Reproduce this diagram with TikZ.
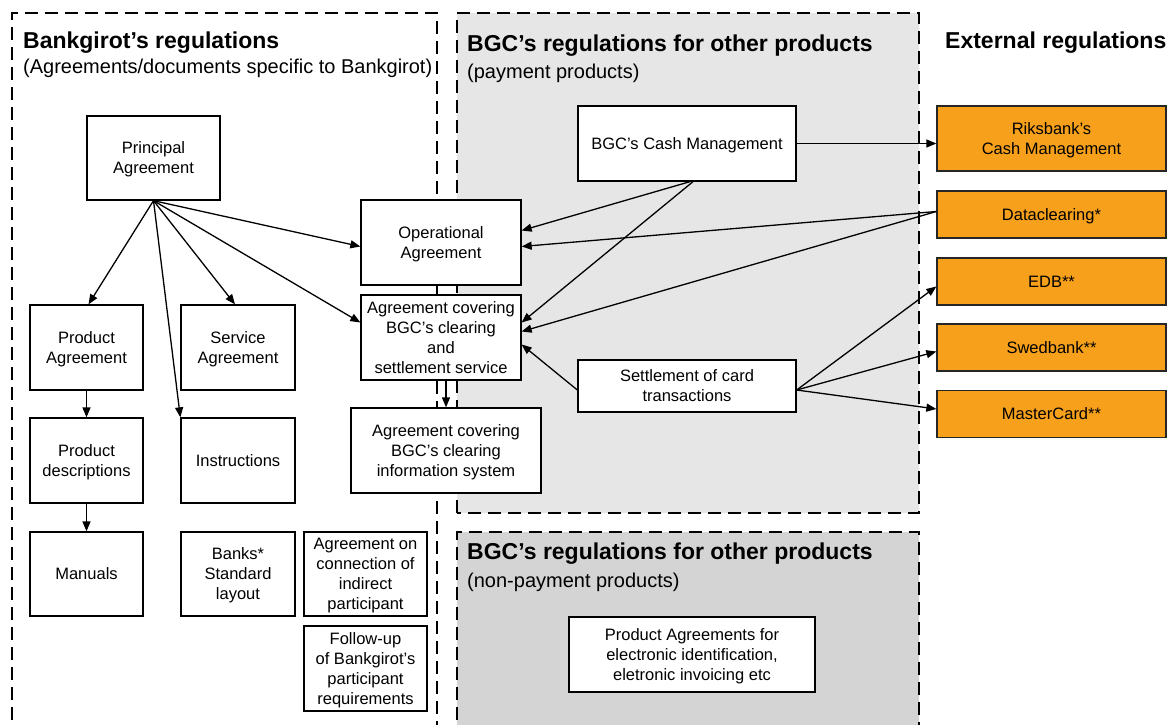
\documentclass[tikz,border=0pt]{standalone}
\usepackage{fontspec}
\setmainfont{Liberation Sans}
\usetikzlibrary{arrows.meta,calc}
\definecolor{orng}{RGB}{247,160,28}
\definecolor{grayA}{RGB}{230,230,230}
\definecolor{grayB}{RGB}{212,212,212}
\begin{document}
\begin{tikzpicture}[x=1pt,y=-1pt,
 box/.style={draw=black, line width=1.3pt, fill=white, align=center, inner sep=0pt, text depth=0pt, font=\fontsize{16.5}{20}\selectfont},
 obox/.style={box, fill=orng, draw=black!85},
 region/.style={draw=black, line width=2.2pt, dash pattern=on 13pt off 7pt},
 arr/.style={-{Triangle[length=10pt,width=8pt]}, line width=1.3pt},
 title/.style={anchor=west, inner sep=0pt, font=\fontsize{23}{27}\selectfont\bfseries},
 sub/.style={anchor=west, inner sep=0pt, font=\fontsize{20}{24}\selectfont}]
\useasboundingbox (0,0) rectangle (1176,725);
% regions
\fill[grayA] (457,13) rectangle (919,513);
\fill[grayB] (457,532) rectangle (919,760);
\draw[region] (12,760) -- (12,13) -- (437,13) -- (437,760);
\draw[region] (457,513) -- (457,13) -- (919,13) -- (919,513) -- cycle;
\draw[region] (457,760) -- (457,532) -- (919,532) -- (919,760);
% titles
\node[title] (t1) at (23,43) {Bankgirot’s regulations};
\node[sub] (s1) at (23,68) {(Agreements/documents specific to Bankgirot)};
\node[title] (t2) at (467,46) {BGC’s regulations for other products};
\node[sub] (s2) at (467,73) {(payment products)};
\node[title] (t3) at (467,554) {BGC’s regulations for other products};
\node[sub] (s3) at (467,582) {(non-payment products)};
\node[title] (t4) at (945,43) {External regulations};
% left nodes
\node[box, minimum width=133, minimum height=84] (pa) at (153.5,158) {Principal\\Agreement};
\node[box, minimum width=113, minimum height=85] (proda) at (86.5,347.5) {Product\\Agreement};
\node[box, minimum width=114, minimum height=85] (serv) at (238,347.5) {Service\\Agreement};
\node[box, minimum width=113, minimum height=85] (pdesc) at (86.5,460.5) {Product\\descriptions};
\node[box, minimum width=114, minimum height=85] (instr) at (238,460.5) {Instructions};
\node[box, minimum width=113, minimum height=84] (man) at (86.5,574) {Manuals};
\node[box, minimum width=114, minimum height=84] (banks) at (238,574) {Banks*\\Standard\\layout};
\node[box, minimum width=123, minimum height=84] (conn) at (365.5,574) {Agreement on\\connection of\\indirect\\participant};
\node[box, minimum width=123, minimum height=85] (follow) at (365.5,668.5) {Follow-up\\of Bankgirot’s\\participant\\requirements};
% middle nodes
\node[box, minimum width=160, minimum height=85] (op) at (441,242.5) {Operational\\Agreement};
\node[box, minimum width=160, minimum height=85] (clr) at (441,337.5) {Agreement covering\\BGC’s clearing\\and\\settlement service};
\node[box, minimum width=190, minimum height=85] (info) at (446,450.5) {Agreement covering\\BGC’s clearing\\information system};
\node[box, minimum width=218, minimum height=75] (cm) at (687,143.5) {BGC’s Cash Management};
\node[box, minimum width=218, minimum height=52] (card) at (687,386) {Settlement of card\\transactions};
\node[box, minimum width=246, minimum height=75] (prodag) at (692,654.5) {Product Agreements for\\electronic identification,\\eletronic invoicing etc};
% external nodes
\node[obox, minimum width=229, minimum height=65] (riks) at (1051.5,138.5) {Riksbank’s\\Cash Management};
\node[obox, minimum width=229, minimum height=47] (dc) at (1051.5,214.5) {Dataclearing*};
\node[obox, minimum width=229, minimum height=47] (edb) at (1051.5,281.5) {EDB**};
\node[obox, minimum width=229, minimum height=47] (swed) at (1051.5,347.5) {Swedbank**};
\node[obox, minimum width=229, minimum height=47] (mc) at (1051.5,414) {MasterCard**};
% arrows from principal
\draw[arr] (pa.south) -- ($(proda.north)+(2,0)$);
\draw[arr] (pa.south) -- ($(serv.north)+(-3,0)$);
\draw[arr] (pa.south) -- (instr.north west);
\draw[arr] (pa.south) -- ($(op.west)+(0,4)$);
\draw[arr] (pa.south) -- ($(clr.west)+(0,-15)$);
\draw[arr] (proda.south) -- (pdesc.north);
\draw[arr] (pdesc.south) -- (man.north);
\draw[arr] (clr.south -| info.north) -- (info.north);
% cash management
\draw[arr] ($(cm.south)+(3,0)$) -- ($(op.east)+(0,-12)$);
\draw[arr] ($(cm.south)+(6,0)$) -- ($(clr.east)+(0,-15)$);
\draw[arr] (cm.east) -- (cm.east -| riks.west);
% dataclearing
\draw[arr] ($(dc.west)+(0,-3)$) -- ($(op.east)+(0,4)$);
\draw[arr] ($(dc.west)+(0,-3)$) -- ($(clr.east)+(0,-6)$);
% card settlement
\draw[arr] ($(card.west)+(0,4)$) -- ($(clr.east)+(0,7)$);
\draw[arr] ($(card.east)+(0,4)$) -- ($(edb.west)+(0,5)$);
\draw[arr] ($(card.east)+(0,4)$) -- ($(swed.west)+(0,4)$);
\draw[arr] ($(card.east)+(0,4)$) -- ($(mc.west)+(0,-5)$);
\end{tikzpicture}
\end{document}
